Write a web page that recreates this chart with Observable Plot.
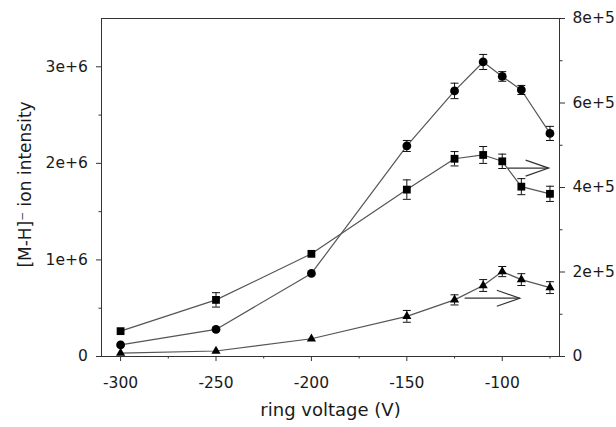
<!DOCTYPE html>
<html>
<head>
<meta charset="utf-8">
<script src="https://cdn.jsdelivr.net/npm/d3@7"></script>
<script src="https://cdn.jsdelivr.net/npm/@observablehq/plot@0.6"></script>
<style>
  html, body { margin: 0; padding: 0; background: #fff; }
</style>
</head>
<body>
<div id="chart"></div>
<script>
// ---- data ----
const voltages = [-300, -250, -200, -150, -125, -110, -100, -90, -75];

// circles: left axis
const circleIntensity = [0.12e6, 0.28e6, 0.86e6, 2.18e6, 2.75e6, 3.05e6, 2.90e6, 2.76e6, 2.31e6];
const circleError     = [0, 0, 0, 0.057e6, 0.08e6, 0.078e6, 0.05e6, 0.047e6, 0.073e6];

// squares: right axis
const squareIntensity = [6.0e4, 1.34e5, 2.43e5, 3.95e5, 4.68e5, 4.77e5, 4.62e5, 4.02e5, 3.85e5];
const squareError     = [0, 1.7e4, 0, 2.3e4, 1.7e4, 2.0e4, 1.7e4, 1.9e4, 1.8e4];

// triangles: right axis
const triangleIntensity = [0.8e4, 1.3e4, 4.2e4, 9.5e4, 1.34e5, 1.68e5, 2.01e5, 1.82e5, 1.63e5];
const triangleError     = [0, 0, 0, 1.4e4, 1.2e4, 1.4e4, 1.2e4, 1.4e4, 1.4e4];

// arrows pointing to the right axis (x in V, y in right-axis units)
const arrowX1 = [-97, -119.7];
const arrowX2 = [-75.7, -90.8];
const arrowY  = [4.46e5, 1.38e5];

// axes
const xDomain = [-310, -70];
const xTicks = [-300, -250, -200, -150, -100];
const xMinorTicks = [-275, -225, -175, -125, -75];
const leftDomain = [0, 3.5e6];
const leftTicks = [0, 1e6, 2e6, 3e6];
const leftTickLabels = ["0", "1e+6", "2e+6", "3e+6"];
const leftMinorTicks = [0.5e6, 1.5e6, 2.5e6];
const rightMax = 8e5;
const rightTicks = [0, 2e5, 4e5, 6e5, 8e5];
const rightTickLabels = ["0", "2e+5", "4e+5", "6e+5", "8e+5"];
const rightMinorTicks = [1e5, 3e5, 5e5, 7e5];

const xTitle = "ring voltage (V)";
const yTitle = "[M-H]\u207B ion intensity";

// ---- build ----
const k = leftDomain[1] / rightMax; // right-axis units -> left-axis units

const rows = [];
voltages.forEach((v, i) => {
  rows.push({series: "circle", x: v, y: circleIntensity[i], e: circleError[i]});
  rows.push({series: "square", x: v, y: squareIntensity[i] * k, e: squareError[i] * k});
  rows.push({series: "triangle", x: v, y: triangleIntensity[i] * k, e: triangleError[i] * k});
});
const errRows = rows.filter(d => d.e > 0).map(d => ({...d, lo: d.y - d.e, hi: d.y + d.e}));
const arrows = arrowX1.map((x1, i) => ({x1, x2: arrowX2[i], y: arrowY[i] * k}));

const capSymbol = {draw(ctx) { ctx.moveTo(-4, 0); ctx.lineTo(4, 0); }};
const headSymbol = {draw(ctx) { ctx.moveTo(-23, -8); ctx.lineTo(0, 0); ctx.lineTo(-23, 8); }};

const leftFmt = d => leftTickLabels[leftTicks.indexOf(d)] ?? "";
const rightFmt = d => {
  const v = Math.round(d / k);
  const idx = rightTicks.indexOf(v);
  return idx >= 0 ? rightTickLabels[idx] : "";
};

const axisColor = "#333";
const textColor = "#1a1a1a";
const tickFont = 15.5;

const chart = Plot.plot({
  width: 616,
  height: 427,
  marginTop: 18,
  marginRight: 57,
  marginBottom: 71,
  marginLeft: 101,
  style: {fontFamily: "DejaVu Sans", fontSize: tickFont + "px", color: textColor, background: "#fff"},
  x: {domain: xDomain, label: null, axis: null},
  y: {domain: leftDomain, label: null, axis: null},
  marks: [
    Plot.frame({stroke: axisColor, strokeWidth: 1}),
    // x axis
    Plot.axisX({ticks: xTicks, tickSize: 5, tickPadding: 15, stroke: axisColor, fill: textColor, fontSize: tickFont, label: null, tickFormat: d => String(d)}),
    Plot.axisX({ticks: xMinorTicks, tickSize: 2.5, stroke: axisColor, label: null, tickFormat: () => ""}),
    // left y axis
    Plot.axisY({ticks: leftTicks, tickSize: 5, tickPadding: 8.7, stroke: axisColor, fill: textColor, fontSize: tickFont, label: null, tickFormat: leftFmt}),
    Plot.axisY({ticks: leftMinorTicks, tickSize: 2.5, stroke: axisColor, label: null, tickFormat: () => ""}),
    // right y axis
    Plot.axisY({anchor: "right", ticks: rightTicks.map(v => v * k), tickSize: 5, tickPadding: 8, stroke: axisColor, fill: textColor, fontSize: tickFont, label: null, tickFormat: rightFmt}),
    Plot.axisY({anchor: "right", ticks: rightMinorTicks.map(v => v * k), tickSize: 2.5, stroke: axisColor, label: null, tickFormat: () => ""}),
    // titles
    Plot.text([xTitle], {text: d => d, frameAnchor: "bottom", textAnchor: "middle", dy: 59, fontSize: 18, fill: textColor}),
    Plot.text([yTitle], {text: d => d, frameAnchor: "left", textAnchor: "middle", rotate: -90, dx: -76, dy: -3, fontSize: 17, fill: textColor}),
    // connecting lines
    Plot.line(rows, {x: "x", y: "y", z: "series", stroke: "#555", strokeWidth: 1.2}),
    // error bars
    Plot.ruleX(errRows, {x: "x", y1: "lo", y2: "hi", stroke: "#111", strokeWidth: 1}),
    Plot.dot(errRows, {x: "x", y: "lo", symbol: capSymbol, fill: "none", stroke: "#111", strokeWidth: 1}),
    Plot.dot(errRows, {x: "x", y: "hi", symbol: capSymbol, fill: "none", stroke: "#111", strokeWidth: 1}),
    // markers
    Plot.dot(rows.filter(d => d.series === "circle"), {x: "x", y: "y", symbol: "circle", r: 4.4, fill: "#000", stroke: "none"}),
    Plot.dot(rows.filter(d => d.series === "square"), {x: "x", y: "y", symbol: "square", r: 4.4, fill: "#000", stroke: "none"}),
    Plot.dot(rows.filter(d => d.series === "triangle"), {x: "x", y: "y", symbol: "triangle", r: 3.4, fill: "#000", stroke: "none"}),
    // arrows
    Plot.link(arrows, {x1: "x1", x2: "x2", y1: "y", y2: "y", stroke: "#333", strokeWidth: 1.2}),
    Plot.dot(arrows, {x: "x2", y: "y", symbol: headSymbol, fill: "none", stroke: "#333", strokeWidth: 1.2})
  ]
});

document.getElementById("chart").appendChild(chart);
</script>
</body>
</html>
